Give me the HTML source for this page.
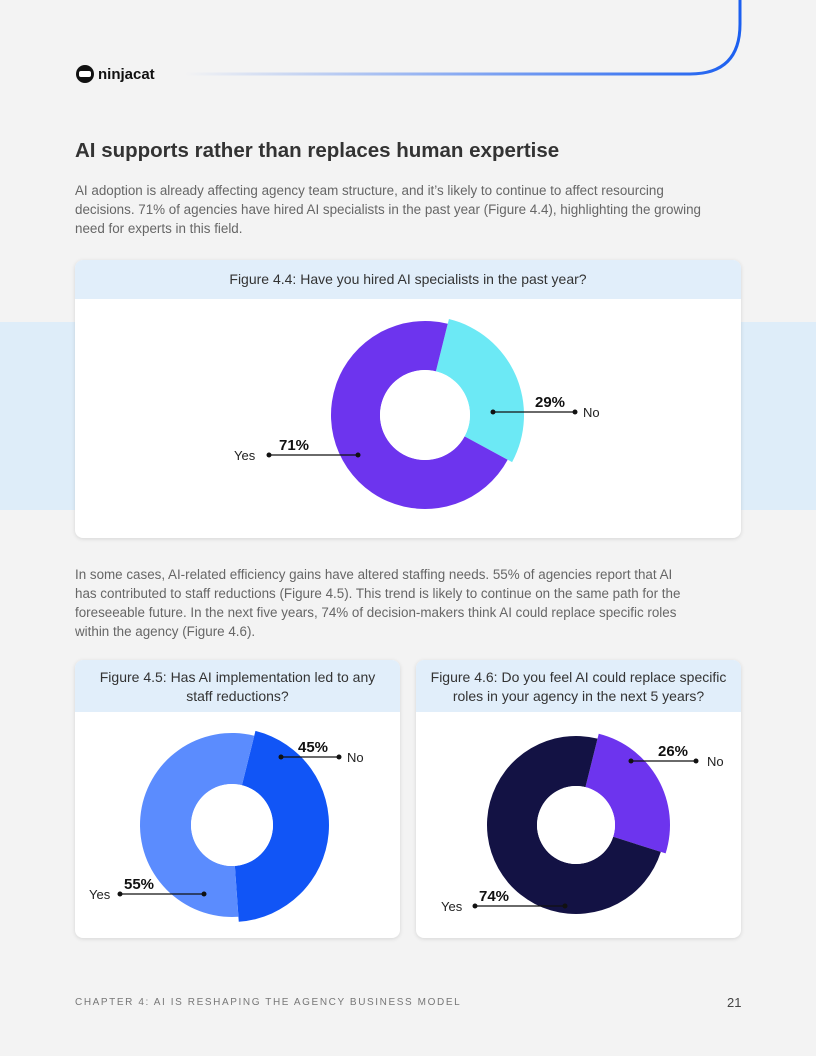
<!DOCTYPE html>
<html><head><meta charset="utf-8"><style>
body{margin:0;width:816px;height:1056px;background:#f3f3f3;font-family:"Liberation Sans",sans-serif;position:relative;overflow:hidden;color:#222}
.abs{position:absolute}
.band{left:0;top:322px;width:816px;height:188px;background:#deedf9}
.card{background:#fff;border-radius:8px;box-shadow:0 1px 4px rgba(0,0,0,.12);overflow:hidden}
.hd{background:#e1eefa;color:#333;font-size:14px;text-align:center;line-height:19px}
p{margin:0}
.txt{font-size:13.4px;line-height:19px;color:#666}
</style></head><body>
<div class="abs band"></div>
<svg class="abs" style="left:0;top:0" width="816" height="100">
<defs><linearGradient id="g" x1="0" x2="1"><stop offset="0" stop-color="#1b5ff0" stop-opacity="0"/><stop offset="1" stop-color="#1b5ff0"/></linearGradient></defs>
<path d="M185 74 H690 Q740 74 740 24 V0" fill="none" stroke="url(#g)" stroke-width="3"/>
<circle cx="85" cy="74" r="9" fill="#111"/><rect x="79" y="71" width="12" height="6" rx="2" fill="#fff"/>
<text x="98" y="79" font-size="15" font-weight="bold" fill="#111" font-family="Liberation Sans">ninjacat</text>
</svg>
<div class="abs" style="left:75px;top:139px;font-size:20.5px;font-weight:bold;color:#333">AI supports rather than replaces human expertise</div>
<p class="abs txt" style="left:75px;top:181px;width:650px">AI adoption is already affecting agency team structure, and it’s likely to continue to affect resourcing decisions. 71% of agencies have hired AI specialists in the past year (Figure 4.4), highlighting the growing need for experts in this field.</p>
<div class="abs card" style="left:75px;top:260px;width:666px;height:278px">
<div class="hd" style="height:39px;line-height:39px">Figure 4.4: Have you hired AI specialists in the past year?</div></div>
<p class="abs txt" style="left:75px;top:565px;width:618px">In some cases, AI-related efficiency gains have altered staffing needs. 55% of agencies report that AI has contributed to staff reductions (Figure 4.5). This trend is likely to continue on the same path for the foreseeable future. In the next five years, 74% of decision-makers think AI could replace specific roles within the agency (Figure 4.6).</p>
<div class="abs card" style="left:75px;top:660px;width:325px;height:278px">
<div class="hd" style="height:44px;padding-top:8px">Figure 4.5: Has AI implementation led to any<br>staff reductions?</div></div>
<div class="abs card" style="left:416px;top:660px;width:325px;height:278px">
<div class="hd" style="height:44px;padding-top:8px">Figure 4.6: Do you feel AI could replace specific<br>roles in your agency in the next 5 years?</div></div>
<svg id="charts" class="abs" style="left:0;top:0" width="816" height="1056"></svg>
<div class="abs" style="left:75px;top:997px;font-size:10px;letter-spacing:1.6px;color:#777">CHAPTER 4: AI IS RESHAPING THE AGENCY BUSINESS MODEL</div>
<div class="abs" style="left:727px;top:995px;font-size:13px;color:#444">21</div>
<script>
const categories=["No","Yes"];
const fig44Values=[29,71];
const fig45Values=[45,55];
const fig46Values=[26,74];
const ns="http://www.w3.org/2000/svg";
const svg=document.getElementById('charts');
function mk(t,a){const e=document.createElementNS(ns,t);for(const k in a)e.setAttribute(k,a[k]);svg.appendChild(e);return e;}
function pt(cx,cy,r,deg){const a=(deg-90)*Math.PI/180;return [cx+r*Math.cos(a),cy+r*Math.sin(a)];}
function arc(cx,cy,R,r,a0,a1){const L=(a1-a0)>180?1:0;const p1=pt(cx,cy,R,a0),p2=pt(cx,cy,R,a1),p3=pt(cx,cy,r,a1),p4=pt(cx,cy,r,a0);
return `M${p1}A${R},${R} 0 ${L} 1 ${p2}L${p3}A${r},${r} 0 ${L} 0 ${p4}Z`;}
function donut(id,vals,cx,cy,R,r,start,colors,lab){
 const tot=vals[0]+vals[1];let a=start;
 vals.forEach((v,i)=>{const span=v/tot*360;const RR=i===0?R+5:R;
  const p=mk('path',{d:arc(cx,cy,RR,r,a,a+span),fill:colors[i]});
  
  
  a+=span;});
 mk('circle',{cx:cx,cy:cy,r:r,fill:'#fff'});
 lab.forEach((L,i)=>{
  mk('line',{x1:L.d[0],y1:L.d[1],x2:L.e[0],y2:L.d[1],stroke:'#111','stroke-width':1.2});
  mk('circle',{cx:L.d[0],cy:L.d[1],r:2.5,fill:'#111'});
  mk('circle',{cx:L.e[0],cy:L.d[1],r:2.5,fill:'#111'});
  const t=mk('text',{x:L.p,y:L.d[1]-5,'font-size':15,'font-weight':'bold',fill:'#111','font-family':'Liberation Sans'});t.textContent=vals[i]+'%';
  
  
  const c=mk('text',{x:L.c,y:L.d[1]+5,'font-size':13,fill:'#222','font-family':'Liberation Sans'});c.textContent=categories[i];
  
  
 });
}
donut('fig44',fig44Values,425,415,94,45,14,['#6ce9f5','#6d34ee'],[{d:[493,412],e:[575],p:535,c:583},{d:[358,455],e:[269],p:279,c:234}]);
donut('fig45',fig45Values,232,825,92,41,14,['#1155f6','#5b8cfe'],[{d:[281,757],e:[339],p:298,c:347},{d:[204,894],e:[120],p:124,c:89}]);
donut('fig46',fig46Values,576,825,89,39,14,['#6d34ee','#131244'],[{d:[631,761],e:[696],p:658,c:707},{d:[565,906],e:[475],p:479,c:441}]);
</script>
</body></html>
